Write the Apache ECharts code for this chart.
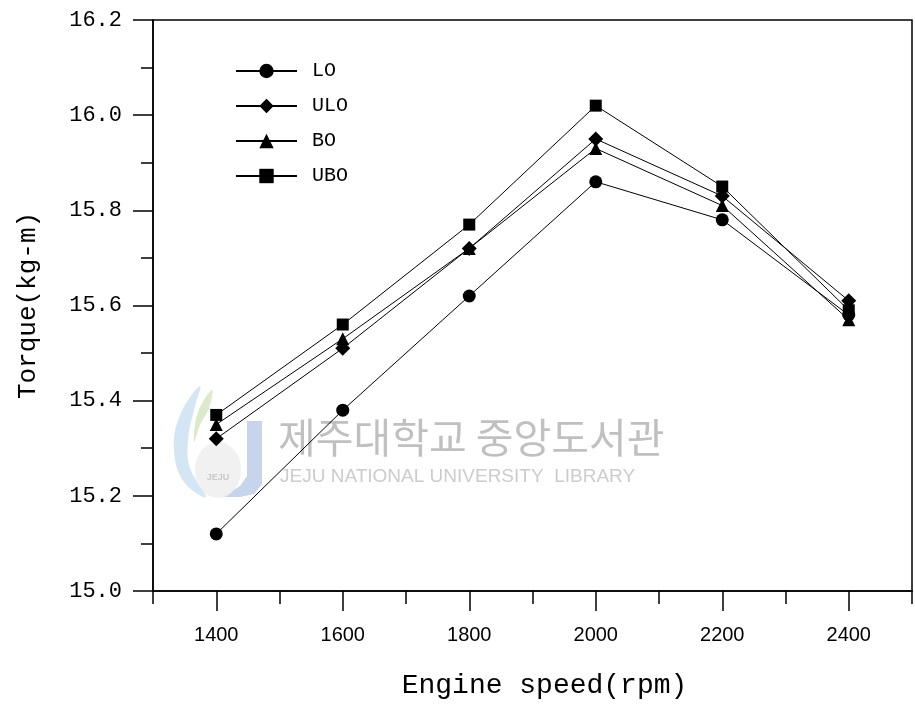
<!DOCTYPE html>
<html>
<head>
<meta charset="utf-8">
<script src="https://cdn.jsdelivr.net/npm/echarts@6/dist/echarts.min.js"></script>
<style>
  html, body { margin: 0; padding: 0; background: #fff; }
  #chart { width: 915px; height: 708px; }
</style>
</head>
<body>
<div id="chart"></div>
<script>
const speeds = [1400, 1600, 1800, 2000, 2200, 2400];
const LO  = [15.12, 15.38, 15.62, 15.86, 15.78, 15.58];
const ULO = [15.32, 15.51, 15.72, 15.95, 15.83, 15.61];
const BO  = [15.35, 15.53, 15.72, 15.93, 15.81, 15.57];
const UBO = [15.37, 15.56, 15.77, 16.02, 15.85, 15.59];
const xMajorTicks = [1400, 1600, 1800, 2000, 2200, 2400];
const xMinorTicks = [1300, 1500, 1700, 1900, 2100, 2300, 2500];
const seriesNames = ['LO', 'ULO', 'BO', 'UBO'];
const seriesValues = [LO, ULO, BO, UBO];
const symbols = ['circle', 'diamond', 'triangle', 'rect'];
const symbolSizes = [13, 15, 13, 12];

const chart = echarts.init(document.getElementById('chart'), null, { renderer: 'canvas' });

const monoFont = '"Liberation Mono", "DejaVu Sans Mono", monospace';

const series = seriesNames.map((name, i) => ({
  name: name,
  type: 'line',
  xAxisIndex: 0,
  yAxisIndex: 0,
  data: speeds.map((s, j) => [s, seriesValues[i][j]]),
  symbol: symbols[i],
  symbolSize: symbolSizes[i],
  showSymbol: true,
  lineStyle: { color: '#000', width: 1 },
  itemStyle: { color: '#000' },
  emphasis: { disabled: true },
  animation: false,
  z: 3
}));

const option = {
  backgroundColor: '#fff',
  animation: false,
  grid: {
    left: 153, top: 20, right: 3, bottom: 117,
    show: true, borderColor: '#000', borderWidth: 1.5, backgroundColor: 'transparent'
  },
  legend: {
    orient: 'vertical',
    left: 235,
    top: 61,
    padding: 0,
    itemWidth: 61,
    itemHeight: 18,
    itemGap: 15,
    data: seriesNames,
    textStyle: { fontFamily: monoFont, fontSize: 20, color: '#000', padding: [0, 0, 0, 10] },
    selectedMode: false
  },
  xAxis: [
    {
      type: 'value', min: 1300, max: 2500, position: 'bottom',
      name: 'Engine speed(rpm)', nameLocation: 'middle', nameGap: 81,
      nameTextStyle: { fontFamily: monoFont, fontSize: 28, color: '#000', padding: [0, 0, 0, 24] },
      axisLine: { show: true, lineStyle: { color: '#000', width: 1.5 } },
      axisTick: { show: true, length: 13, customValues: xMinorTicks, lineStyle: { color: '#000', width: 1.5 } },
      axisLabel: { show: false },
      splitLine: { show: false }
    },
    {
      type: 'value', min: 1300, max: 2500, position: 'bottom',
      axisLine: { show: false },
      axisTick: { show: true, length: 20, customValues: xMajorTicks, lineStyle: { color: '#000', width: 1.5 } },
      axisLabel: { show: true, customValues: xMajorTicks, margin: 34, fontFamily: '"Liberation Sans", Arial, sans-serif', fontSize: 20, color: '#000', formatter: v => String(v) },
      splitLine: { show: false }
    }
  ],
  yAxis: [
    {
      type: 'value', min: 15.0, max: 16.2, interval: 0.2,
      name: 'Torque(kg-m)', nameLocation: 'middle', nameGap: 112,
      nameTextStyle: { fontFamily: monoFont, fontSize: 26, color: '#000' },
      axisLine: { show: true, lineStyle: { color: '#000', width: 1.5 } },
      axisTick: { show: true, length: 20, lineStyle: { color: '#000', width: 1.5 } },
      minorTick: { show: true, splitNumber: 2, length: 12, lineStyle: { color: '#000', width: 1.5 } },
      axisLabel: { margin: 31, fontFamily: monoFont, fontSize: 22, color: '#000', formatter: v => v.toFixed(1) },
      splitLine: { show: false },
      minorSplitLine: { show: false }
    }
  ],
  graphic: [
    { type: 'polygon', z: 0, silent: true,
      shape: { points: [[247,421],[262,421],[262,484],[254,494],[240,497],[222,497],[240,486],[247,476]] },
      style: { fill: '#bccde9', opacity: 0.85 } },
    { type: 'polygon', z: 0, silent: true,
      shape: { points: [[200,386],[180,415],[174,450],[184,482],[206,497],[190,468],[188,440],[194,410]], smooth: 0.4 },
      style: { fill: '#cfe3f2', opacity: 0.9 } },
    { type: 'polygon', z: 0, silent: true,
      shape: { points: [[212,390],[198,412],[194,442],[200,425],[209,408]], smooth: 0.4 },
      style: { fill: '#d6e8c4', opacity: 0.9 } },
    { type: 'ellipse', z: 0, silent: true,
      shape: { cx: 218, cy: 470, rx: 23, ry: 28 },
      style: { fill: '#efefef', opacity: 0.9 } },
    { type: 'text', z: 0, silent: true, x: 218, y: 478,
      style: { text: 'JEJU', fontFamily: '"Liberation Sans", sans-serif', fontSize: 9, fontWeight: 'bold', fill: '#c9c9c9', align: 'center', verticalAlign: 'middle' } },
    { type: 'text', z: 0, silent: true, x: 278, y: 437,
      style: { text: '제주대학교 중앙도서관', fontFamily: '"Noto Sans CJK KR", sans-serif', fontSize: 41, fill: '#c0c0c0', align: 'left', verticalAlign: 'middle' } },
    { type: 'text', z: 0, silent: true, x: 280, y: 477,
      style: { text: 'JEJU NATIONAL UNIVERSITY  LIBRARY', fontFamily: '"Liberation Sans", Arial, sans-serif', fontSize: 19, fill: '#cccccc', align: 'left', verticalAlign: 'middle' } }
  ],
  series: series
};

chart.setOption(option);
</script>
</body>
</html>
